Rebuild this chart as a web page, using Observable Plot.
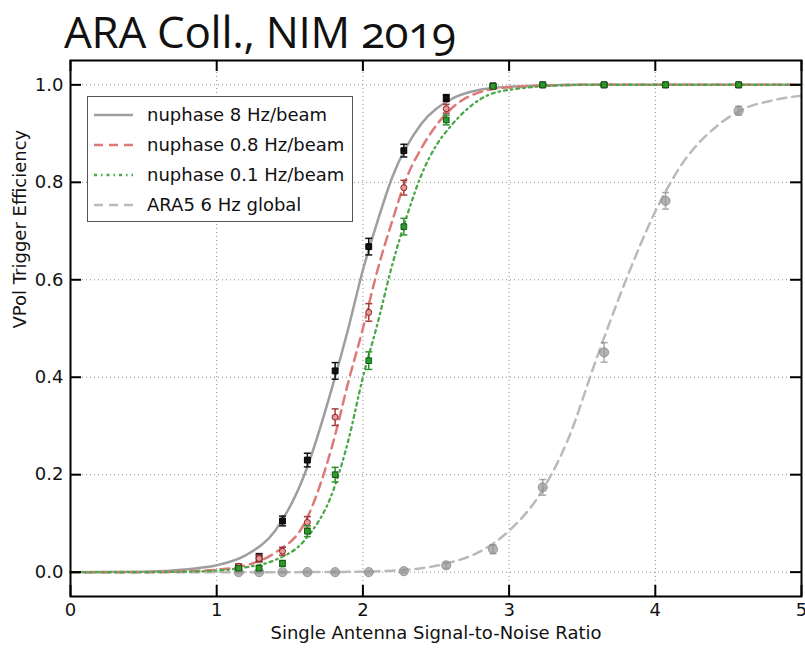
<!DOCTYPE html>
<html>
<head>
<meta charset="utf-8">
<script src="https://cdn.jsdelivr.net/npm/d3@7"></script>
<script src="https://cdn.jsdelivr.net/npm/@observablehq/plot@0.6"></script>
<style>
  html, body { margin: 0; padding: 0; background: white; }
  #wrap { position: relative; width: 805px; height: 650px; overflow: hidden; }
  #title { position: absolute; left: 0; top: 0; z-index: 2; overflow: visible; }
  #chart { position: absolute; left: 0; top: 50px; }
  #legend {
    position: absolute; left: 87px; top: 96px; width: 264px; height: 124px;
    border: 1px solid #555; background: white; box-sizing: content-box;
    font-family: "DejaVu Sans", sans-serif; font-size: 18px; color: #111;
  }
  .entry { position: absolute; left: 0; height: 30px; width: 264px; }
  .entry svg { position: absolute; left: 5px; top: 0; }
  .entry span { position: absolute; left: 59px; top: 4px; white-space: nowrap; }
</style>
</head>
<body>
<div id="wrap">
  <div id="chart"></div>
  <div id="legend"></div>
  <svg id="title" width="805" height="62">
    <text x="64" y="47.5" font-family="'Open Sans', sans-serif" font-size="44" fill="#111"
      style="font-feature-settings: 'onum' 1; font-variant-numeric: oldstyle-nums; letter-spacing: -0.3px;">ARA Coll., NIM 2019</text>
  </svg>
</div>
<script>
// ---- measured points (SNR bins) ----
const snr   = [1.15, 1.29, 1.45, 1.62, 1.81, 2.04, 2.28, 2.57, 2.89, 3.23, 3.65, 4.07, 4.57];
const eff8  = [0.010, 0.030, 0.105, 0.230, 0.413, 0.668, 0.865, 0.973, 0.998, 1.000, 1.000, 1.000, 1.000];
const err8  = [0.005, 0.008, 0.010, 0.014, 0.017, 0.017, 0.013, 0.007, 0.003, 0.002, 0.002, 0.002, 0.002];
const eff08 = [0.012, 0.028, 0.043, 0.102, 0.318, 0.533, 0.789, 0.951, 0.997, 1.000, 1.000, 1.000, 1.000];
const err08 = [0.005, 0.007, 0.008, 0.012, 0.017, 0.018, 0.015, 0.009, 0.003, 0.002, 0.002, 0.002, 0.002];
const eff01 = [0.008, 0.008, 0.018, 0.084, 0.200, 0.434, 0.709, 0.928, 0.997, 1.000, 1.000, 1.000, 1.000];
const err01 = [0.004, 0.004, 0.006, 0.011, 0.015, 0.018, 0.017, 0.010, 0.003, 0.002, 0.002, 0.002, 0.002];
const effA5 = [0.000, 0.000, 0.000, 0.000, 0.000, 0.000, 0.002, 0.014, 0.047, 0.174, 0.451, 0.762, 0.947];
const errA5 = [0.002, 0.002, 0.002, 0.002, 0.002, 0.002, 0.003, 0.006, 0.009, 0.016, 0.020, 0.017, 0.009];

// ---- fitted curves ----
const fitX8  = [0, 0.5, 0.8, 1.0, 1.2, 1.4, 1.6, 1.8, 1.9, 2.0, 2.1, 2.2, 2.4, 2.6, 2.8, 3.0, 3.5, 4.0, 5.0];
const fitY8  = [0, 0.001, 0.006, 0.014, 0.035, 0.085, 0.200, 0.390, 0.500, 0.620, 0.720, 0.810, 0.920, 0.970, 0.990, 0.996, 1, 1, 1];
const fitX08 = [0, 0.5, 0.8, 1.0, 1.2, 1.4, 1.6, 1.8, 1.9, 2.0, 2.1, 2.2, 2.3, 2.4, 2.6, 2.8, 3.0, 3.5, 4.0, 5.0];
const fitY08 = [0, 0, 0.002, 0.005, 0.014, 0.040, 0.100, 0.270, 0.390, 0.500, 0.620, 0.720, 0.810, 0.870, 0.950, 0.985, 0.995, 1, 1, 1];
const fitX01 = [0, 0.5, 0.8, 1.0, 1.2, 1.4, 1.6, 1.8, 1.9, 2.0, 2.1, 2.2, 2.3, 2.4, 2.5, 2.6, 2.8, 3.0, 3.5, 4.0, 5.0];
const fitY01 = [0, 0, 0.001, 0.003, 0.010, 0.025, 0.065, 0.170, 0.270, 0.400, 0.510, 0.630, 0.730, 0.815, 0.875, 0.915, 0.970, 0.990, 1, 1, 1];
const fitXA5 = [0, 1.0, 1.5, 2.0, 2.2, 2.4, 2.6, 2.8, 3.0, 3.2, 3.4, 3.6, 3.8, 4.0, 4.2, 4.4, 4.6, 4.8, 5.0];
const fitYA5 = [0, 0, 0, 0.001, 0.003, 0.008, 0.020, 0.042, 0.085, 0.155, 0.270, 0.440, 0.600, 0.740, 0.845, 0.910, 0.950, 0.968, 0.978];

// ---- axis ticks ----
const xTicks = [0, 1, 2, 3, 4, 5];
const yTicks = [0, 0.2, 0.4, 0.6, 0.8, 1.0];
const xLabel = "Single Antenna Signal-to-Noise Ratio";
const yLabel = "VPol Trigger Efficiency";

// ---- series definitions ----
const seriesNames = ["nuphase 8 Hz/beam", "nuphase 0.8 Hz/beam", "nuphase 0.1 Hz/beam", "ARA5 6 Hz global"];

const pts = (ys, es) => snr.map((x, i) => ({x, y: ys[i], e: es[i]}));
const crv = (xs, ys) => xs.map((x, i) => ({x, y: ys[i]}));

const p8 = pts(eff8, err8), p08 = pts(eff08, err08), p01 = pts(eff01, err01), pA5 = pts(effA5, errA5);
const c8 = crv(fitX8, fitY8), c08 = crv(fitX08, fitY08), c01 = crv(fitX01, fitY01), cA5 = crv(fitXA5, fitYA5);

const styles = {
  s8:  {line: "#9e9e9e", dash: null,        w: 2.5, bar: "#111",    fill: "#111",    stroke: "#000",    sym: "square", r: 3.3},
  s08: {line: "#dc7a7a", dash: "9,6",       w: 2.5, bar: "#a83c3c", fill: "#e59a9a", stroke: "#8a2020", sym: "circle", r: 3.0},
  s01: {line: "#4aa84a", dash: "3,4,1.5,4", w: 2.3, bar: "#2f8f2f", fill: "#2e9a2e", stroke: "#145a14", sym: "square", r: 3.2},
  sA5: {line: "#bababa", dash: "9,6",       w: 2.5, bar: "#8c8c8c", fill: "#999",    stroke: "#888",    sym: "circle", r: 4.6}
};

const capSymbol = {
  draw(context, size) {
    const r = Math.sqrt(size / Math.PI);
    context.moveTo(-r, 0);
    context.lineTo(r, 0);
  }
};

function pointMarks(data, s, opacity = 1) {
  return [
    Plot.ruleX(data, {x: "x", y1: d => d.y - d.e, y2: d => d.y + d.e, stroke: s.bar, strokeWidth: 1.5, strokeOpacity: opacity}),
    Plot.dot(data, {x: "x", y: d => d.y - d.e, symbol: capSymbol, r: 3.5, stroke: s.bar, fill: "none", strokeWidth: 1.5, strokeOpacity: opacity}),
    Plot.dot(data, {x: "x", y: d => d.y + d.e, symbol: capSymbol, r: 3.5, stroke: s.bar, fill: "none", strokeWidth: 1.5, strokeOpacity: opacity}),
    Plot.dot(data, {x: "x", y: "y", symbol: s.sym, r: s.r, fill: s.fill, stroke: s.stroke, strokeWidth: 1, fillOpacity: opacity, strokeOpacity: opacity})
  ];
}

function curveMark(data, s) {
  return Plot.line(data, {x: "x", y: "y", stroke: s.line, strokeWidth: s.w, strokeDasharray: s.dash, curve: "monotone-x"});
}

const W = 805, H = 600, mT = 10, mB = 54, mL = 70, mR = 4;
const innerH = H - mT - mB, innerW = W - mL - mR;
const tickLen = 11;

const chart = Plot.plot({
  width: W, height: H,
  marginTop: mT, marginBottom: mB, marginLeft: mL, marginRight: mR,
  style: {fontFamily: "'DejaVu Sans', sans-serif", fontSize: "18px", background: "white", color: "#111", overflow: "visible"},
  x: {domain: [0, 5], label: null},
  y: {domain: [-0.05, 1.05], label: null},
  marks: [
    Plot.gridX(xTicks.slice(1, -1), {stroke: "#8c8c8c", strokeOpacity: 1, strokeWidth: 1, strokeDasharray: "1,3"}),
    Plot.gridY(yTicks, {stroke: "#8c8c8c", strokeOpacity: 1, strokeWidth: 1, strokeDasharray: "1,3"}),
    curveMark(cA5, styles.sA5),
    curveMark(c8, styles.s8),
    curveMark(c08, styles.s08),
    curveMark(c01, styles.s01),
    ...pointMarks(pA5, styles.sA5, 0.75),
    ...pointMarks(p8, styles.s8),
    ...pointMarks(p08, styles.s08),
    ...pointMarks(p01, styles.s01),
    // inward ticks on all four sides
    Plot.ruleX(xTicks, {x: d => d, insetTop: innerH - tickLen, stroke: "#000", strokeWidth: 2}),
    Plot.ruleX(xTicks, {x: d => d, insetBottom: innerH - tickLen, stroke: "#000", strokeWidth: 2}),
    Plot.ruleY(yTicks, {y: d => d, insetRight: innerW - tickLen, stroke: "#000", strokeWidth: 2}),
    Plot.ruleY(yTicks, {y: d => d, insetLeft: innerW - tickLen, stroke: "#000", strokeWidth: 2}),
    Plot.frame({stroke: "#000", strokeWidth: 2}),
    Plot.axisX(xTicks, {anchor: "bottom", tickSize: 0, tickPadding: 7, tickFormat: d3.format("d"), label: null, fontSize: 18}),
    Plot.axisY(yTicks, {anchor: "left", tickSize: 0, tickPadding: 7, tickFormat: d3.format(".1f"), label: null, fontSize: 18}),
    Plot.text([xLabel], {frameAnchor: "bottom", dy: 42, fontSize: 18, fill: "#111"}),
    Plot.text([yLabel], {frameAnchor: "left", dx: -50, rotate: -90, fontSize: 18, fill: "#111"})
  ]
});
document.getElementById("chart").appendChild(chart);

// ---- legend (inside plot, upper left) ----
const legendStyles = [styles.s8, styles.s08, styles.s01, styles.sA5];
const legend = document.getElementById("legend");
seriesNames.forEach((name, i) => {
  const s = legendStyles[i];
  const row = document.createElement("div");
  row.className = "entry";
  row.style.top = (3 + i * 30) + "px";
  row.innerHTML =
    `<svg width="42" height="30"><line x1="1" x2="40" y1="15" y2="15" stroke="${s.line}" stroke-width="${s.w}" ${s.dash ? `stroke-dasharray="${s.dash}"` : ""}/></svg>` +
    `<span>${name}</span>`;
  legend.appendChild(row);
});
</script>
</body>
</html>
